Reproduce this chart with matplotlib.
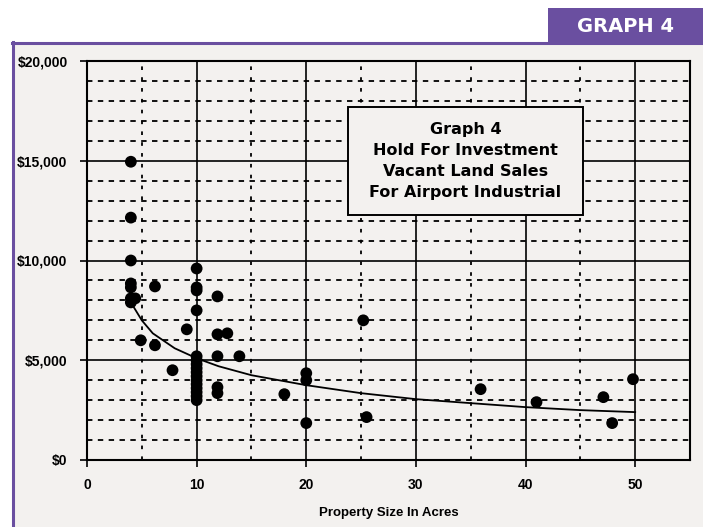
import matplotlib
matplotlib.use("Agg")
import matplotlib.pyplot as plt
from matplotlib.patches import Rectangle
from matplotlib.ticker import MultipleLocator, FuncFormatter

plt.rcParams['font.family'] = ['Liberation Sans', 'DejaVu Sans']

# Sales: property size (acres) and price per acre ($)
acres = [4, 4, 4, 4, 4, 4, 4.4, 4, 6.2, 4.9, 6.2, 7.8, 9.1,
         10, 10, 10, 10,
         10, 10, 10, 10, 10, 10, 10, 10, 10, 10, 10, 10,
         11.9, 11.9, 12.8, 11.9, 11.9, 11.9, 13.9,
         18, 20, 20, 20, 25.2, 25.5, 35.9, 41, 47.1, 47.9, 49.8]
price = [14950, 12150, 10000, 8850, 8650, 8100, 8100, 7900, 8700, 6000, 5750, 4500, 6550,
         9600, 8650, 8500, 7500,
         5200, 5000, 4800, 4600, 4400, 4200, 4000, 3800, 3600, 3400, 3200, 3000,
         8200, 6300, 6350, 5200, 3650, 3350, 5200,
         3300, 4350, 4000, 1850, 7000, 2150, 3550, 2900, 3150, 1850, 4050]

# Trend line
trend_x = [4, 5, 6, 8, 10, 12, 15, 20, 25, 30, 35, 40, 45, 50]
trend_y = [7900, 7000, 6350, 5600, 5100, 4700, 4250, 3750, 3350, 3050, 2850, 2650, 2500, 2400]

x_ticks = [0, 10, 20, 30, 40, 50]
y_ticks = [0, 5000, 10000, 15000, 20000]

title_lines = ["Graph 4", "Hold For Investment", "Vacant Land Sales", "For Airport Industrial"]
x_label = "Property Size In Acres"
badge = "GRAPH 4"

bg = '#f3f1ef'
purple = '#6a4fa0'

fig = plt.figure(figsize=(7.03, 5.27), dpi=100)
fig.patch.set_facecolor('white')

# page panel with purple frame
W, H = 703, 527
fig.add_artist(Rectangle((13 / W, 0), 1 - 13 / W, 1 - 43 / H, transform=fig.transFigure,
                         facecolor=bg, edgecolor='none', zorder=0))
fig.add_artist(plt.Line2D([13 / W, 13 / W], [0, 1 - 42 / H], transform=fig.transFigure,
                          color=purple, lw=2.2))
fig.add_artist(plt.Line2D([12 / W, 1], [1 - 43 / H, 1 - 43 / H], transform=fig.transFigure,
                          color=purple, lw=2.2))
fig.add_artist(Rectangle((548 / W, 1 - 43 / H), 1 - 548 / W, 35 / H, transform=fig.transFigure,
                         facecolor=purple, edgecolor='none'))
fig.text((548 + 703) / 2 / W, 1 - 26 / H, badge, color='white', fontsize=14,
         fontweight='bold', ha='center', va='center', family=['DejaVu Sans'])

ax = fig.add_axes([87 / W, 1 - 460 / H, (690 - 87) / W, (460 - 61) / H])
ax.set_facecolor(bg)
ax.set_xlim(0, 55)
ax.set_ylim(0, 20000)

ax.xaxis.set_major_locator(MultipleLocator(10))
ax.xaxis.set_minor_locator(MultipleLocator(5))
ax.yaxis.set_major_locator(MultipleLocator(5000))
ax.yaxis.set_minor_locator(MultipleLocator(1000))
ax.set_xticks(x_ticks)
ax.set_yticks(y_ticks)
ax.yaxis.set_major_formatter(FuncFormatter(lambda v, p: f"${v:,.0f}"))

ax.grid(which='major', color='black', lw=1.2, ls='-')
ax.grid(which='minor', axis='y', color='black', lw=1.3, ls=(0, (3, 3)))
ax.grid(which='minor', axis='x', color='black', lw=1.3, ls=(0, (2, 4)))
ax.set_axisbelow(True)

for s in ax.spines.values():
    s.set_color('black')
    s.set_linewidth(1.5)

ax.tick_params(which='major', length=5, width=1.2, color='black', labelsize=10)
ax.tick_params(which='minor', length=0)
ax.tick_params(axis='x', pad=8)
ax.tick_params(axis='y', pad=9)
for lab in ax.get_xticklabels() + ax.get_yticklabels():
    lab.set_fontweight('bold')

ax.scatter(acres, price, s=72, color='black', zorder=3, edgecolors='none')
ax.plot(trend_x, trend_y, color='black', lw=1.3, zorder=3)

ax.set_xlabel(x_label, fontsize=9.5, fontweight='bold', labelpad=11)

# title box
bx0, bx1 = (348 - 87) / 603, (583 - 87) / 603
by0, by1 = (460 - 215) / 399, (460 - 107) / 399
ax.add_patch(Rectangle((bx0, by0), bx1 - bx0, by1 - by0, transform=ax.transAxes,
                       facecolor=bg, edgecolor='black', lw=1.4, zorder=5))
ax.text((bx0 + bx1) / 2, (by0 + by1) / 2, "\n".join(title_lines), transform=ax.transAxes,
        ha='center', va='center', fontsize=11.5, fontweight='bold', linespacing=1.5,
        zorder=6, family=['DejaVu Sans'])

fig.savefig('out.png', dpi=100, facecolor=fig.get_facecolor())
